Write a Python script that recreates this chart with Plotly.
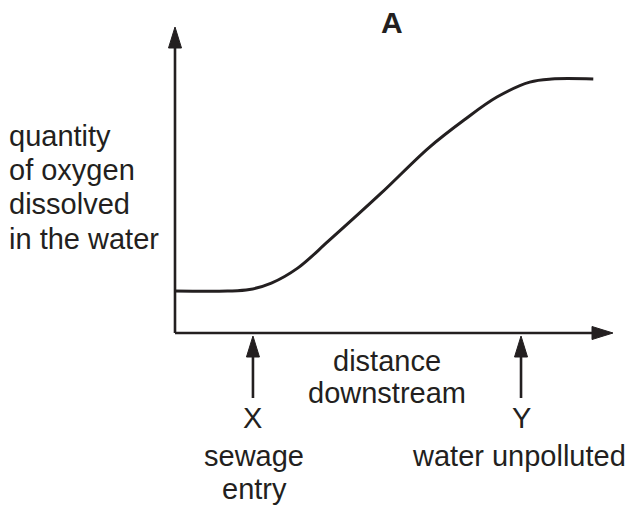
import plotly.graph_objects as go

# ---- data (schematic units) ----
distance = [0, 1.2, 1.7, 2.2, 2.8, 3.5, 4.7, 5.8, 6.6, 7.35, 8.1, 8.6, 9.55]
oxygen = [1.37, 1.37, 1.42, 1.63, 2.12, 3.0, 4.56, 6.06, 6.96, 7.71, 8.2, 8.3, 8.3]
x_axis_end = 10.0
y_axis_end = 10.0
marker_positions = [1.78, 7.9]          # X (sewage entry), Y (water unpolluted)
marker_letters = ["X", "Y"]
marker_captions = [["sewage", "entry"], ["water unpolluted"]]
y_label_lines = ["quantity", "of oxygen", "dissolved", "in the water"]
x_label_lines = ["distance", "downstream"]
title_text = "A"

# ---- layout geometry ----
W, H = 630, 507
OX, OY = 175, 333          # pixel position of origin
SX, SY = 43.8, 30.6        # pixels per unit
INK = "#231f20"
FONT = "Liberation Sans, Arial, sans-serif"
FS = 29

def px2x(p):
    return (p - OX) / SX

def px2y(p):
    return (OY - p) / SY

HEAD_L, HEAD_HW = 21, 6.5  # arrowhead length / half width in px

def head_up(tx, ty):
    bx = ty - HEAD_L / SY
    return ([tx, tx - HEAD_HW / SX, tx + HEAD_HW / SX, tx],
            [ty, bx, bx, ty])

def head_right(tx, ty):
    bx = tx - HEAD_L / SX
    return ([tx, bx, bx, tx],
            [ty, ty + HEAD_HW / SY, ty - HEAD_HW / SY, ty])

fig = go.Figure()

# axes
fig.add_trace(go.Scatter(x=[0, 0], y=[0, y_axis_end - HEAD_L / SY], mode="lines",
                         line=dict(color=INK, width=2.6), hoverinfo="skip"))
fig.add_trace(go.Scatter(x=[0, x_axis_end - HEAD_L / SX], y=[0, 0], mode="lines",
                         line=dict(color=INK, width=2.6), hoverinfo="skip"))
hx, hy = head_up(0, y_axis_end)
fig.add_trace(go.Scatter(x=hx, y=hy, mode="lines", fill="toself", fillcolor=INK,
                         line=dict(color=INK, width=1), hoverinfo="skip"))
hx, hy = head_right(x_axis_end, 0)
fig.add_trace(go.Scatter(x=hx, y=hy, mode="lines", fill="toself", fillcolor=INK,
                         line=dict(color=INK, width=1), hoverinfo="skip"))

# curve
fig.add_trace(go.Scatter(x=distance, y=oxygen, mode="lines",
                         line=dict(color=INK, width=3, shape="spline", smoothing=1.0),
                         hoverinfo="skip"))

# pointer arrows X and Y
tip_y = px2y(OY + 3)
bottom_y = px2y(OY + 65)
for mx in marker_positions:
    fig.add_trace(go.Scatter(x=[mx, mx], y=[bottom_y, tip_y - HEAD_L / SY], mode="lines",
                             line=dict(color=INK, width=2.6), hoverinfo="skip"))
    hx, hy = head_up(mx, tip_y)
    fig.add_trace(go.Scatter(x=hx, y=hy, mode="lines", fill="toself", fillcolor=INK,
                             line=dict(color=INK, width=1), hoverinfo="skip"))

annotations = []

def add_text(text, x, y, xanchor="center", size=FS, bold=False):
    annotations.append(dict(
        text=f"<b>{text}</b>" if bold else text, x=x, y=y, xref="x", yref="y",
        xanchor=xanchor, yanchor="middle", showarrow=False,
        font=dict(family=FONT, size=size, color=INK)))

# title
add_text(title_text, px2x(392), px2y(22), size=30, bold=True)

# y label, left aligned
for i, line in enumerate(y_label_lines):
    add_text(line, px2x(7), px2y(135.6 + 34.4 * i), xanchor="left")

# x label
for i, line in enumerate(x_label_lines):
    add_text(line, px2x(387), px2y(361 + 32 * i))

# marker letters and captions
caption_x = [px2x(254), px2x(519)]
for mx, letter, caps, cx in zip(marker_positions, marker_letters, marker_captions, caption_x):
    add_text(letter, mx, px2y(418))
    for j, c in enumerate(caps):
        add_text(c, cx, px2y(456 + 33 * j))

fig.update_layout(
    width=W, height=H,
    margin=dict(l=0, r=0, t=0, b=0),
    paper_bgcolor="white", plot_bgcolor="white",
    showlegend=False,
    annotations=annotations,
    xaxis=dict(range=[px2x(0), px2x(W)], visible=False, fixedrange=True),
    yaxis=dict(range=[px2y(H), px2y(0)], visible=False, fixedrange=True),
)

fig.write_html("out.html", config={"displayModeBar": False},
               post_script="document.body.style.margin='0';document.body.style.overflow='hidden';")
